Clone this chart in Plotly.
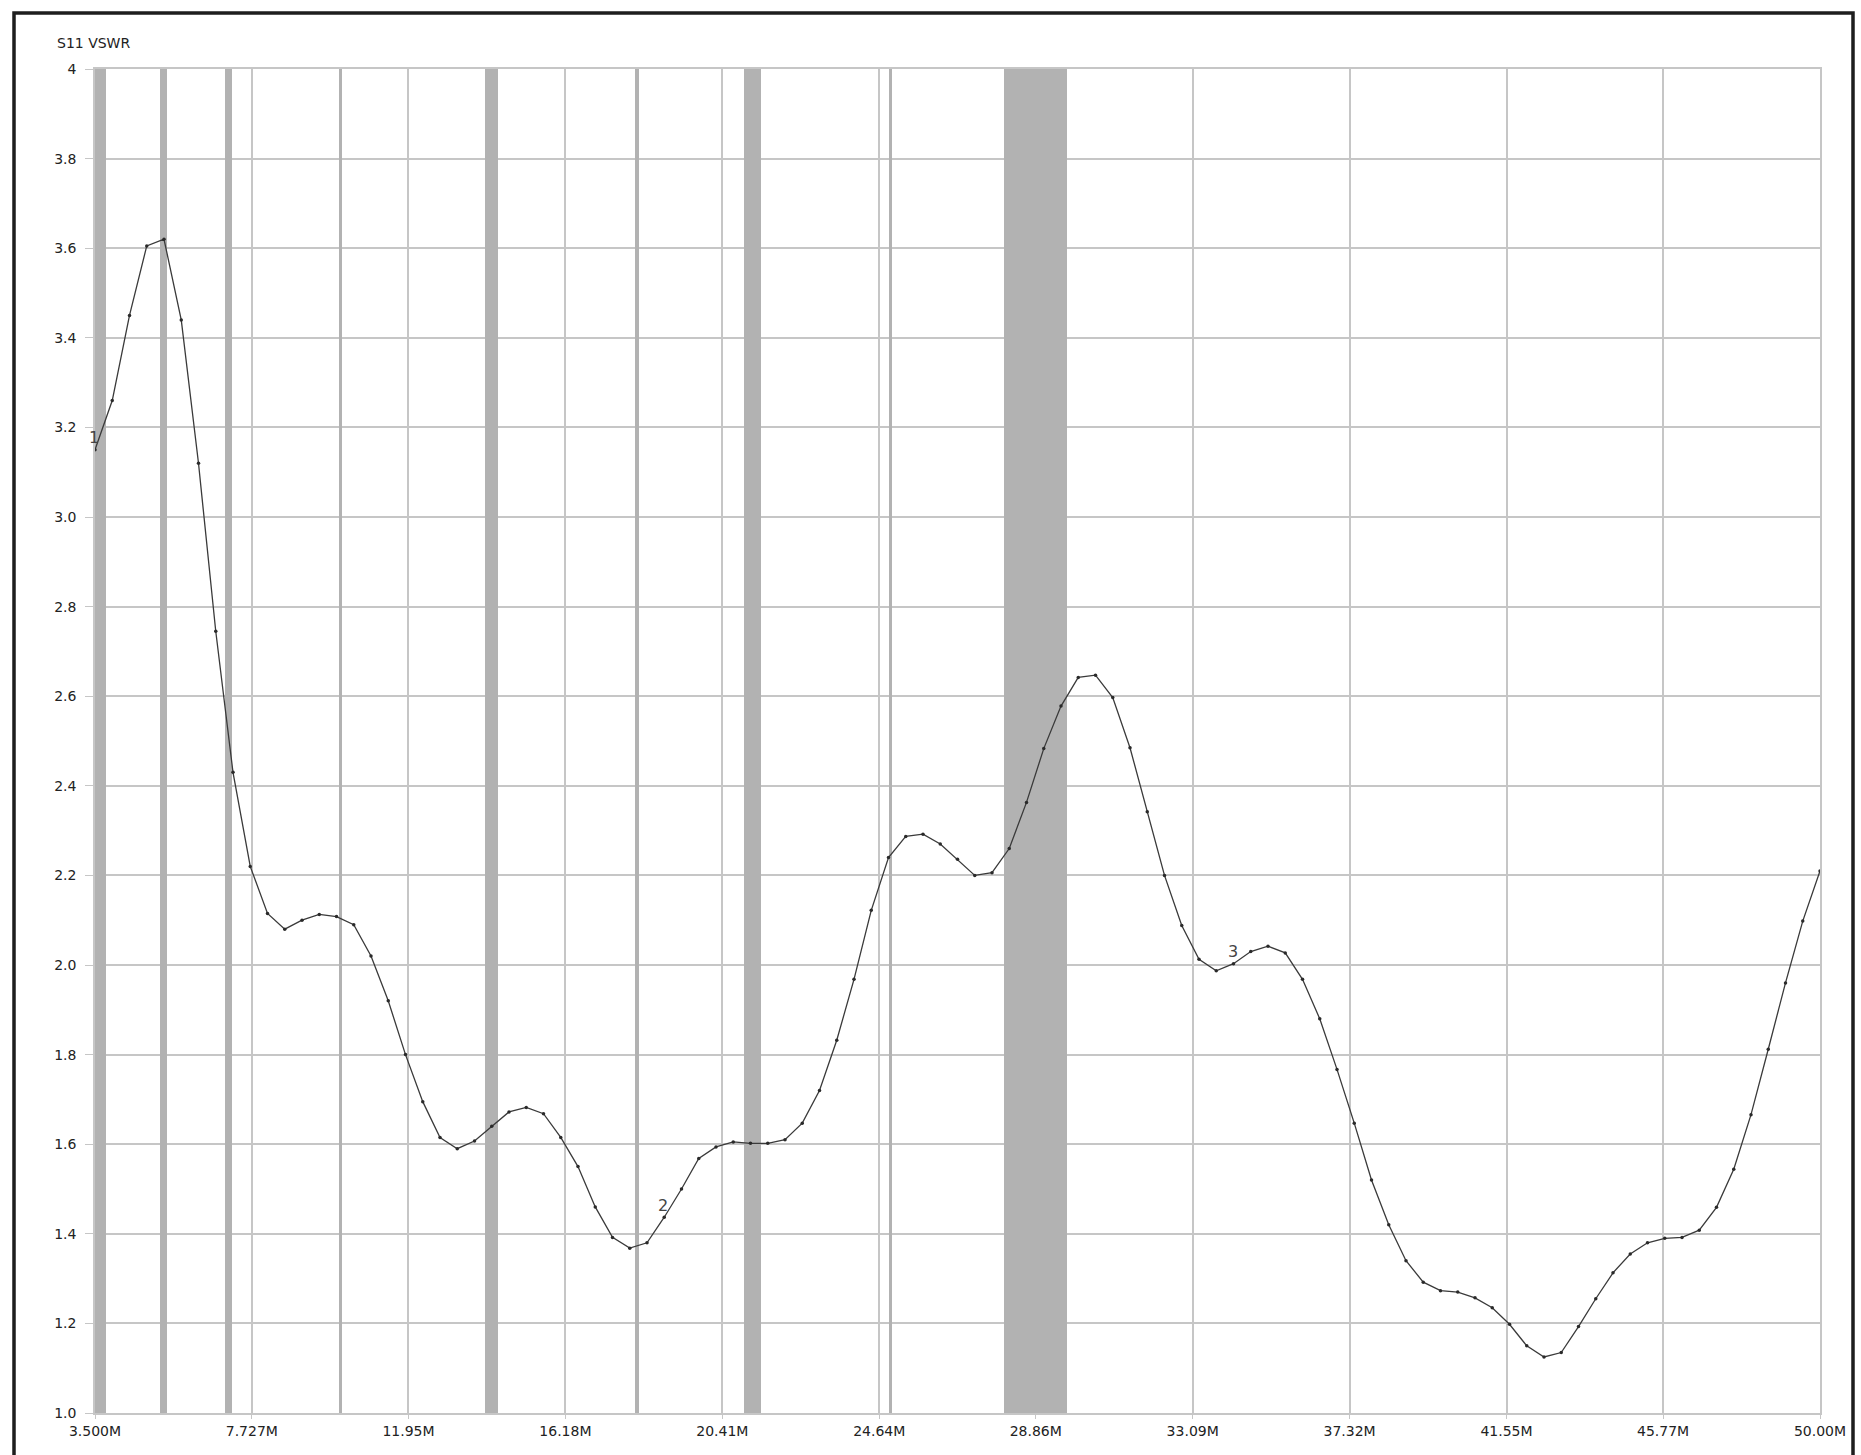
import plotly.graph_objects as go

# ---- data ----
freq_start = 3.5
freq_step = 0.465
vswr = [3.15, 3.26, 3.45, 3.605, 3.62, 3.44, 3.12, 2.745, 2.43, 2.22,
        2.115, 2.08, 2.10, 2.113, 2.108, 2.09, 2.02, 1.92, 1.80, 1.695,
        1.615, 1.59, 1.607, 1.64, 1.672, 1.682, 1.668, 1.615, 1.55, 1.46,
        1.392, 1.368, 1.38, 1.437, 1.50, 1.568, 1.594, 1.605, 1.602, 1.602,
        1.61, 1.647, 1.72, 1.832, 1.968, 2.122, 2.24, 2.287, 2.292, 2.27,
        2.236, 2.20, 2.206, 2.26, 2.363, 2.483, 2.578, 2.642, 2.647, 2.597,
        2.485, 2.342, 2.20, 2.088, 2.013, 1.987, 2.003, 2.03, 2.042, 2.027,
        1.968, 1.88, 1.767, 1.647, 1.52, 1.42, 1.34, 1.292, 1.273, 1.27,
        1.257, 1.235, 1.198, 1.15, 1.125, 1.135, 1.193, 1.255, 1.313, 1.355,
        1.38, 1.39, 1.392, 1.408, 1.459, 1.544, 1.666, 1.812, 1.96, 2.098,
        2.21]
freq = [freq_start + i * freq_step for i in range(len(vswr))]

band_start = [3.5, 5.24, 7.0, 10.1, 14.0, 18.068, 21.0, 24.89, 28.0]
band_end = [3.8, 5.43, 7.2, 10.15, 14.35, 18.168, 21.45, 24.99, 29.7]

x_tickvals = [3.5, 7.727, 11.95, 16.18, 20.41, 24.64, 28.86, 33.09, 37.32, 41.55, 45.77, 50.0]
x_ticktext = ["3.500M", "7.727M", "11.95M", "16.18M", "20.41M", "24.64M", "28.86M",
              "33.09M", "37.32M", "41.55M", "45.77M", "50.00M"]
y_tickvals = [1.0, 1.2, 1.4, 1.6, 1.8, 2.0, 2.2, 2.4, 2.6, 2.8, 3.0, 3.2, 3.4, 3.6, 3.8, 4.0]
y_ticktext = ["1.0", "1.2", "1.4", "1.6", "1.8", "2.0", "2.2", "2.4", "2.6", "2.8",
              "3.0", "3.2", "3.4", "3.6", "3.8", "4"]

marker_idx = [0, 33, 66]
marker_lbl = ["1", "2", "3"]

# ---- figure ----
W, H = 1861, 1455
L, R, T, B = 95, 41, 69, 42
pw, ph = W - L - R, H - T - B
y_min, y_max = 1.0, 4.0

fig = go.Figure()

# ham bands as bars spanning the full y range (drawn above the grid, below the curve)
fig.add_trace(go.Bar(
    x=[(s + e) / 2 for s, e in zip(band_start, band_end)],
    width=[e - s for s, e in zip(band_start, band_end)],
    y=[y_max - y_min] * len(band_start), base=y_min,
    marker=dict(color="#b2b2b2", line=dict(width=0)),
    hoverinfo="skip", showlegend=False))

fig.add_trace(go.Scatter(
    x=freq, y=vswr, mode="lines+markers",
    line=dict(color="#3a3a3a", width=1.3),
    marker=dict(color="#2a2a2a", size=3.5),
    hoverinfo="skip", showlegend=False))

for i, t in zip(marker_idx, marker_lbl):
    fig.add_annotation(x=freq[i], y=vswr[i], text=t, showarrow=False,
                       yshift=12, xshift=-1,
                       font=dict(family="DejaVu Sans", size=16, color="#444"))

fig.add_annotation(xref="paper", yref="paper", x=(55 - L) / pw, y=(H - B - 43) / ph,
                   xanchor="left", yanchor="middle", text="S11 VSWR", showarrow=False,
                   font=dict(family="DejaVu Sans", size=14, color="#222"))

# outer frame
fig.add_shape(type="rect", xref="paper", yref="paper",
              x0=(14 - L) / pw, x1=(1853 - L) / pw,
              y0=(H - B - 1470) / ph, y1=(H - B - 13) / ph,
              line=dict(color="#1e1e1e", width=3.5), fillcolor="rgba(0,0,0,0)",
              layer="above")

axis_common = dict(showgrid=True, gridcolor="#c6c6c6", gridwidth=1.6,
                   showline=True, linecolor="#c6c6c6", linewidth=1.6, mirror=True,
                   zeroline=False, ticks="outside", tickcolor="#c6c6c6",
                   tickfont=dict(family="DejaVu Sans", size=14, color="#222"))

fig.update_xaxes(range=[3.5, 50.0], tickmode="array", tickvals=x_tickvals,
                 ticktext=x_ticktext, ticklen=4, **axis_common)
fig.update_yaxes(range=[y_min, y_max], tickmode="array", tickvals=y_tickvals,
                 ticktext=y_ticktext, ticklen=8, ticklabelstandoff=6, **axis_common)

fig.update_layout(width=W, height=H, margin=dict(l=L, r=R, t=T, b=B, pad=0),
                  plot_bgcolor="white", paper_bgcolor="white", bargap=0,
                  font=dict(family="DejaVu Sans"))

fig.write_html("out.html", config={"displayModeBar": False})

# remove default browser body margin so the figure sits at the page origin
with open("out.html", "r", encoding="utf-8") as f:
    html = f.read()
html = html.replace("<body>", '<body style="margin:0;padding:0;overflow:hidden">', 1)
with open("out.html", "w", encoding="utf-8") as f:
    f.write(html)
